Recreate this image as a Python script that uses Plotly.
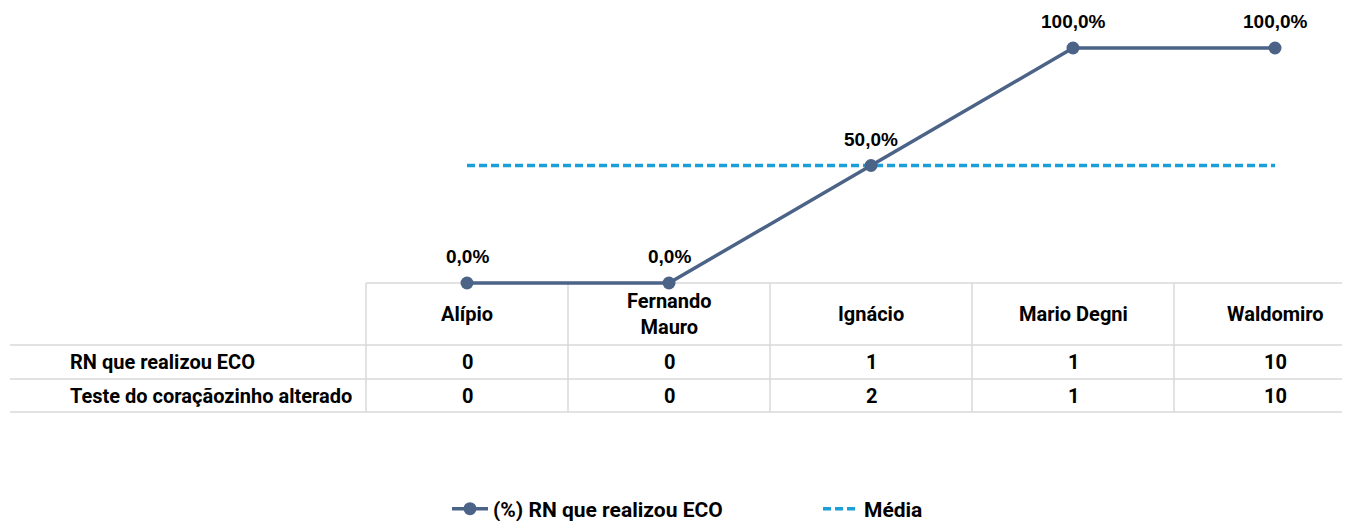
import plotly.graph_objects as go

# ---------------------------------------------------------
# Data
# ---------------------------------------------------------
medicos = ["Alípio", "Fernando<br>Mauro", "Ignácio", "Mario Degni", "Waldomiro"]
pct_eco = [0.0, 0.0, 0.5, 1.0, 1.0]
media = [0.5, 0.5, 0.5, 0.5, 0.5]

row_labels = ["RN que realizou ECO", "Teste do coraçãozinho alterado"]
rn_eco = [0, 0, 1, 1, 10]
teste_alterado = [0, 0, 2, 1, 10]
table_rows = [rn_eco, teste_alterado]

LINE_COLOR = "#4C6388"
MEDIA_COLOR = "#1A9FD9"
GRID_COLOR = "#D9D9D9"
TABLE_FONT = "Roboto, Arial, sans-serif"
LABEL_FONT = "Liberation Sans, Arial, sans-serif"

# the page puts the plot 8px in from the top-left corner
OFF = 8
W, H = 1350 - OFF, 521 - OFF
# Excel-like geometry in page pixels (0% at 283px, 100% at 48px)
Y0_PX, UNIT_PX = 283, 235
X0_PX, CAT_PX = 467, 202


def ypx(p):
    return (Y0_PX - p) / UNIT_PX


def xpx(p):
    return (p - X0_PX) / CAT_PX


xs = list(range(len(medicos)))

fig = go.Figure()

fig.add_trace(
    go.Scatter(
        x=xs,
        y=media,
        mode="lines",
        name="Média",
        line=dict(color=MEDIA_COLOR, width=3.5, dash="8px,4px"),
        hoverinfo="skip",
    )
)

fig.add_trace(
    go.Scatter(
        x=xs,
        y=pct_eco,
        mode="lines+markers",
        name="(%) RN que realizou ECO",
        line=dict(color=LINE_COLOR, width=3.5),
        marker=dict(color=LINE_COLOR, size=13),
        cliponaxis=False,
        hoverinfo="skip",
    )
)

annotations = []
# data labels
for x, v in zip(xs, pct_eco):
    annotations.append(dict(
        x=x, y=v, xref="x", yref="y", yanchor="bottom", yshift=14,
        text=f"{v:.1%}".replace(".", ","), showarrow=False,
        font=dict(family=LABEL_FONT, size=19, color="black", weight="bold"),
    ))

# ---------------------------------------------------------
# Data table under the chart
# ---------------------------------------------------------
header_top, header_bot = 283, 345
row_edges = [345, 379, 412]
right_edge = xpx(1400)
left_edge = xpx(10)
grid = dict(color=GRID_COLOR, width=1.5)

shapes = []
shapes.append(dict(type="line", xref="x", yref="y", x0=-0.5, x1=right_edge,
                   y0=ypx(header_top), y1=ypx(header_top), line=grid, layer="below"))
for e in row_edges:
    shapes.append(dict(type="line", xref="x", yref="y", x0=left_edge, x1=right_edge,
                       y0=ypx(e), y1=ypx(e), line=grid, layer="below"))
for i in range(len(medicos) + 1):
    shapes.append(dict(type="line", xref="x", yref="y", x0=i - 0.5, x1=i - 0.5,
                       y0=ypx(header_top), y1=ypx(row_edges[-1]), line=grid, layer="below"))

tfont = dict(family=TABLE_FONT, size=20, color="black", weight="bold")
for i, name in enumerate(medicos):
    annotations.append(dict(x=i, y=ypx((header_top + header_bot) / 2), xref="x", yref="y",
                            text=name, showarrow=False, font=tfont))
for r, (lab, vals) in enumerate(zip(row_labels, table_rows)):
    yc = ypx((row_edges[r] + row_edges[r + 1]) / 2)
    annotations.append(dict(x=xpx(68), y=yc, xref="x", yref="y", xanchor="left",
                            text=lab, showarrow=False, font=tfont))
    for i, v in enumerate(vals):
        annotations.append(dict(x=i, y=yc, xref="x", yref="y",
                                text=str(v), showarrow=False, font=tfont))

fig.update_layout(
    width=W,
    height=H,
    margin=dict(l=0, r=0, t=0, b=0, autoexpand=False),
    plot_bgcolor="white",
    paper_bgcolor="white",
    xaxis=dict(range=[xpx(OFF), xpx(OFF + W)], visible=False, fixedrange=True),
    yaxis=dict(range=[ypx(OFF + H), ypx(OFF)], visible=False, fixedrange=True),
    shapes=shapes,
    annotations=annotations,
    showlegend=True,
    legend=dict(
        orientation="h",
        x=(447 - OFF) / W,
        xanchor="left",
        y=1 - (509 - OFF) / H,
        yanchor="middle",
        traceorder="reversed",
        entrywidth=320,
        itemwidth=36,
        font=dict(family=TABLE_FONT, size=21, color="black", weight="bold"),
    ),
)

fig.write_html("out.html")
